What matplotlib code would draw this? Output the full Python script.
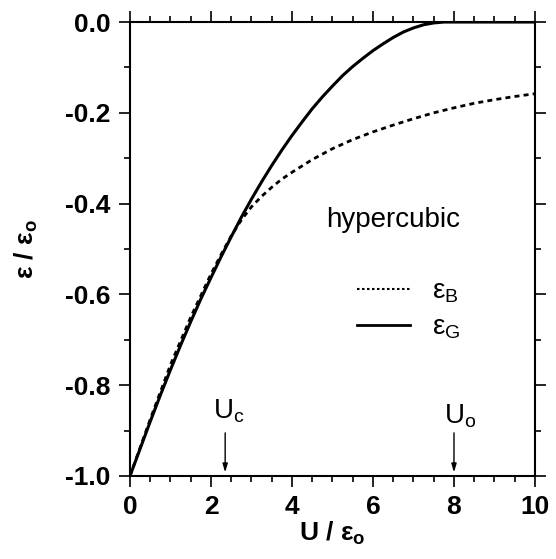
import matplotlib
matplotlib.use("Agg")
import matplotlib.pyplot as plt
from matplotlib.lines import Line2D
from matplotlib.ticker import MultipleLocator, FormatStrFormatter

plt.rcParams['font.family'] = ['Liberation Sans', 'DejaVu Sans']
plt.rcParams['mathtext.fontset'] = 'custom'
plt.rcParams['mathtext.rm'] = 'Liberation Sans'
plt.rcParams['mathtext.bf'] = 'Liberation Sans:bold'
plt.rcParams['mathtext.it'] = 'Liberation Sans'

# data
U_G = [0, 0.25, 0.5, 0.75, 1, 1.25, 1.5, 1.75, 2, 2.25, 2.5, 2.75, 3, 3.25, 3.5, 3.75,
       4, 4.25, 4.5, 4.75, 5, 5.25, 5.5, 5.75, 6, 6.25, 6.5, 6.75, 7, 7.25, 7.5, 7.75,
       8, 9, 10]
eps_G = [-1.0, -0.94, -0.88, -0.822, -0.766, -0.712, -0.66, -0.61, -0.563, -0.517,
         -0.473, -0.43, -0.39, -0.352, -0.316, -0.282, -0.25, -0.22, -0.191, -0.165,
         -0.141, -0.118, -0.098, -0.08, -0.063, -0.048, -0.034, -0.022, -0.013, -0.006,
         -0.002, 0.0, 0.0, 0.0, 0.0]
U_B = [0, 0.5, 1, 1.5, 2, 2.25, 2.5, 2.75, 3, 3.25, 3.5, 3.75, 4, 4.5, 5, 5.5, 6, 6.5,
       7, 7.5, 8, 8.5, 9, 9.5, 10]
eps_B = [-1.0, -0.875, -0.755, -0.65, -0.555, -0.512, -0.471, -0.436, -0.407, -0.384,
         -0.364, -0.346, -0.331, -0.303, -0.279, -0.259, -0.242, -0.227, -0.213, -0.2,
         -0.189, -0.179, -0.171, -0.164, -0.158]
U_c = 2.35
U_o = 8.0
x_ticks = [0, 2, 4, 6, 8, 10]
y_ticks = [-1.0, -0.8, -0.6, -0.4, -0.2, 0.0]

fig = plt.figure(figsize=(5.56, 5.59), dpi=100)
ax = fig.add_axes([0.2338, 0.1485, 0.7284, 0.8121])

ax.plot(U_B, eps_B, color='black', lw=2.0, dashes=(1.8, 1.5))
ax.plot(U_G, eps_G, color='black', lw=2.2)

ax.set_xlim(0, 10)
ax.set_ylim(-1.0, 0.0)
ax.set_xticks(x_ticks)
ax.set_yticks(y_ticks)
ax.xaxis.set_minor_locator(MultipleLocator(0.5))
ax.yaxis.set_minor_locator(MultipleLocator(0.1))
ax.xaxis.set_major_formatter(FormatStrFormatter('%g'))
ax.yaxis.set_major_formatter(FormatStrFormatter('%.1f'))

for s in ax.spines.values():
    s.set_linewidth(1.5)
ax.tick_params(which='both', direction='out', top=True, right=True, width=1.2)
ax.tick_params(which='major', length=8, labelsize=19, pad=6)
ax.tick_params(which='minor', length=4.5)
for lab in ax.get_xticklabels() + ax.get_yticklabels():
    lab.set_fontweight('bold')

ax.set_xlabel(r'$\mathbf{U\ /\ ε_o}$', fontsize=19, labelpad=0)
ax.set_ylabel(r'$\mathbf{ε\ /\ ε_o}$', fontsize=19, labelpad=18)

ax.text(6.49, -0.436, 'hypercubic', fontsize=20, ha='center', va='center')

handles = [Line2D([], [], color='black', lw=1.5, ls=(0, (1.2, 1.2))),
           Line2D([], [], color='black', lw=2.0)]
ax.legend(handles, [r'$\mathrm{ε_B}$', r'$\mathrm{ε_G}$'], frameon=False,
          fontsize=20, loc='upper left', bbox_to_anchor=(0.5, 0.49),
          handlelength=1.9, handletextpad=0.8, labelspacing=0.35)

arrow = dict(arrowstyle='-|>,head_length=0.5,head_width=0.15', color='black', lw=1.0,
             shrinkA=0, shrinkB=0)
ax.annotate('', xy=(U_c, -0.992), xytext=(U_c, -0.905), arrowprops=arrow)
ax.annotate('', xy=(U_o, -0.992), xytext=(U_o, -0.905), arrowprops=arrow)
ax.text(U_c + 0.1, -0.858, r'$\mathrm{U_c}$', fontsize=20, ha='center', va='center')
ax.text(U_o + 0.15, -0.868, r'$\mathrm{U_o}$', fontsize=20, ha='center', va='center')

fig.savefig('out.png', dpi=100)
